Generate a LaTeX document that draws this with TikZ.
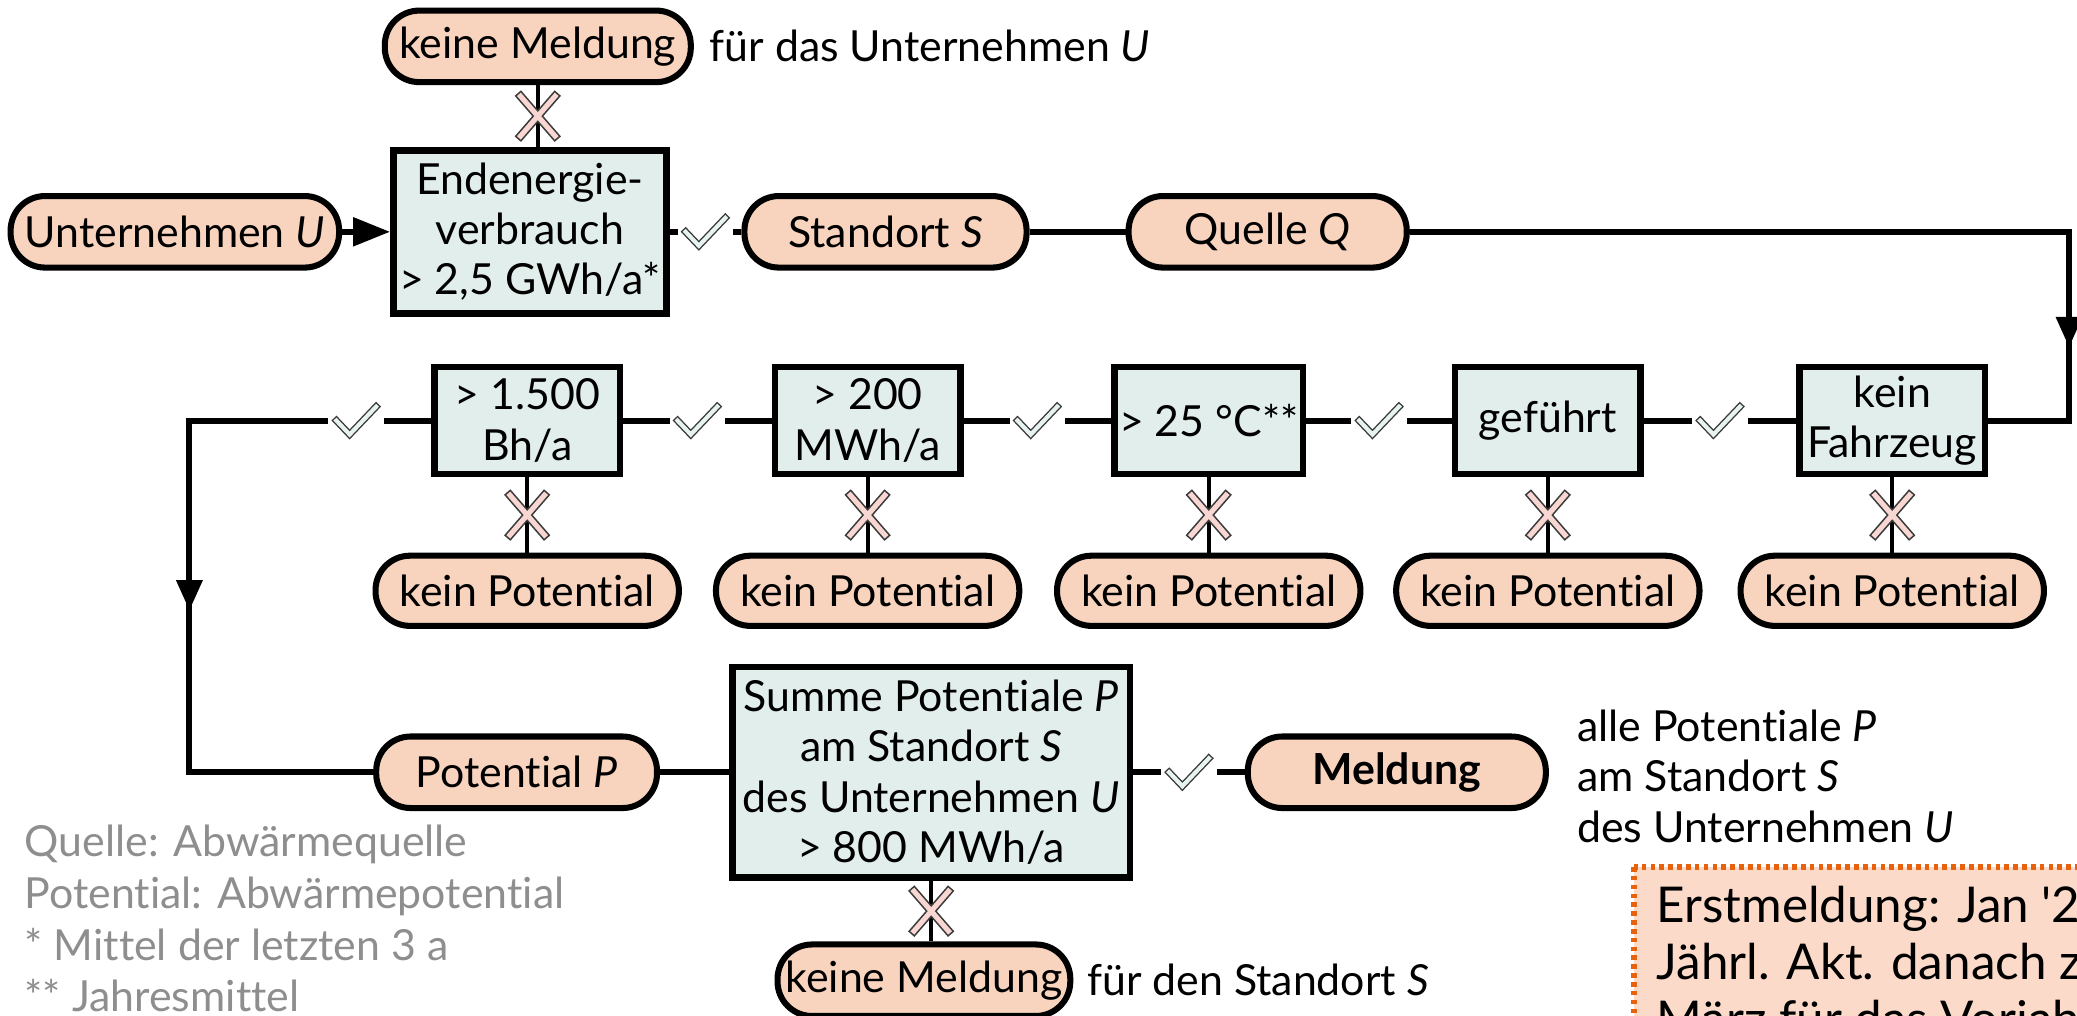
\documentclass[tikz,border=0pt]{standalone}
\usepackage{fontspec}
\setmainfont{Lato}[RawFeature={-liga;-clig;-dlig;-calt}]
\usetikzlibrary{arrows.meta,decorations.markings}

\definecolor{pillfill}{HTML}{F8D4BF}
\definecolor{boxfill}{HTML}{E2EEEB}
\definecolor{okfill}{HTML}{E6F3F0}
\definecolor{nofill}{HTML}{F8D6D2}
\definecolor{markline}{HTML}{3A3A3A}
\definecolor{legendgray}{HTML}{8E8E8E}
\definecolor{noteline}{HTML}{E8620E}
\definecolor{notefill}{HTML}{FCDACA}

\tikzset{
  every node/.style={font=\fontsize{9.2}{10.8}\selectfont},
  pill/.style={draw, line width=1.3pt, fill=pillfill, rounded corners=0.26cm,
    minimum height=0.54cm, inner sep=1pt},
  test/.style={draw, line width=1.4pt, fill=boxfill, align=center, inner sep=1pt},
  rowbox/.style={test, minimum width=1.40cm, minimum height=0.81cm},
  conn/.style={line width=1.3pt},
  stem/.style={line width=0.9pt},
  midarrow/.style={postaction={decorate}, decoration={markings,
    mark=at position #1 with {\arrow{Triangle[length=0.23cm,width=0.19cm]}}}},
  okmark/.style={fill=white, inner sep=0pt, minimum width=0.42cm, minimum height=0.3cm,
    path picture={
      \foreach \w/\col in {1.5pt/markline, 0.9pt/okfill}
        \draw[line width=\w, draw=\col, line cap=rect]
          ([shift={(-0.15,0.0)}]path picture bounding box.center)
          -- ++(0.1,-0.105) -- ++(0.2,0.21);
    }},
  nomark/.style={inner sep=0pt, minimum width=0.36cm, minimum height=0.4cm,
    path picture={
      \foreach \w/\col in {1.8pt/markline, 1.1pt/nofill}
        \draw[line width=\w, draw=\col, line cap=rect]
          ([shift={(-0.13,-0.15)}]path picture bounding box.center) -- ++(0.26,0.3)
          ([shift={(-0.13,0.15)}]path picture bounding box.center) -- ++(0.26,-0.3);
    }},
  remark/.style={anchor=west, inner sep=0pt},
}

\begin{document}
\begin{tikzpicture}
  \useasboundingbox (0,0) rectangle (15.68,7.67);

  %% row 1
  \node[pill, minimum width=2.48cm] (unt) at (1.32,5.92) {Unternehmen \textit{U}};
  \node[test, minimum width=2.06cm, minimum height=1.23cm] (endv) at (4.00,5.92)
    {Endenergie-\\verbrauch\\> 2,5 GWh/a*};
  \node[pill, minimum width=2.31cm] (keinU) at (4.06,7.32) {keine Meldung};
  \node[remark] at (5.35,7.32) {für das Unternehmen \textit{U}};
  \node[pill, minimum width=2.13cm] (standort) at (6.685,5.92) {Standort \textit{S}};
  \node[pill, minimum width=2.10cm] (quelle) at (9.57,5.92) {Quelle \textit{Q}};

  \draw[conn, -{Triangle[length=0.28cm,width=0.21cm]}] (unt) -- (endv);
  \draw[stem] (keinU) -- node[nomark] (no1) {} (keinU |- endv.north);
  \draw[conn] (endv) -- node[okmark] (ok1) {} (standort);
  \draw[conn] (standort) -- (quelle);

  %% row 2
  \node[rowbox] (fz) at (14.285,4.495) {kein\\Fahrzeug};
  \node[rowbox] (gef) at (11.685,4.495) {geführt};
  \node[rowbox] (temp) at (9.125,4.495) {> 25 °C**};
  \node[rowbox] (mwh) at (6.55,4.495) {> 200\\MWh/a};
  \node[rowbox] (bh) at (3.98,4.495) {> 1.500\\Bh/a};
  \foreach \i/\x in {1/3.98,2/6.55,3/9.125,4/11.685,5/14.285}
    \node[pill, minimum width=2.29cm, minimum height=0.53cm] (kp\i) at (\x,3.21) {kein Potential};

  \coordinate (rc) at (15.62,4.495);
  \coordinate (lc) at (1.43,4.495);
  \draw[conn, midarrow=5.85cm] (quelle) -| (rc) -- (fz);
  \draw[conn] (fz) -- node[okmark] (ok2) {} (gef);
  \draw[conn] (gef) -- node[okmark] (ok3) {} (temp);
  \draw[conn] (temp) -- node[okmark] (ok4) {} (mwh);
  \draw[conn] (mwh) -- node[okmark] (ok5) {} (bh);
  \foreach \b/\i in {bh/1,mwh/2,temp/3,gef/4,fz/5}
    \draw[stem] (\b) -- node[nomark] (nokp\i) {} (kp\i);

  %% row 3
  \node[pill, minimum width=2.12cm] (potP) at (3.90,1.84) {Potential \textit{P}};
  \node[test, minimum width=3.00cm, minimum height=1.59cm] (summe) at (7.03,1.84)
    {Summe Potentiale \textit{P}\\am Standort \textit{S}\\des Unternehmen \textit{U}\\> 800 MWh/a};
  \node[pill, minimum width=2.25cm] (meldung) at (10.545,1.84) {\textbf{Meldung}};
  \node[pill, minimum width=2.21cm] (keinS) at (6.975,0.27) {keine Meldung};
  \node[remark, align=left] at (11.90,1.81)
    {alle Potentiale \textit{P}\\am Standort \textit{S}\\des Unternehmen \textit{U}};
  \node[remark] at (8.20,0.27) {für den Standort \textit{S}};

  \draw[conn, midarrow=3.26cm] (bh) -- node[okmark, pos=0.31] (ok6) {} (lc) |- (potP);
  \draw[conn] (potP) -- (summe);
  \draw[conn] (summe) -- node[okmark] (ok7) {} (meldung);
  \draw[stem] (summe) -- node[nomark] (no7) {} (summe |- keinS.north);

  %% legend
  \node[remark, align=left, text=legendgray, font=\fontsize{9.2}{11.1}\selectfont] (legend) at (0.18,0.735)
    {Quelle: Abwärmequelle\\Potential: Abwärmepotential\\* Mittel der letzten 3 a\\** Jahresmittel};

  %% note
  \draw[noteline, fill=notefill, line width=1.2pt, dash pattern=on 1pt off 0.9pt]
    (12.335,1.125) rectangle (16.5,-0.6);
  \node[anchor=north west, align=left, inner sep=0pt, font=\fontsize{10.6}{12.3}\selectfont] (note) at (12.50,0.99)
    {Erstmeldung: Jan \textquotesingle2\\Jährl. Akt. danach zu\\März für das Vorjah};
\end{tikzpicture}
\end{document}
